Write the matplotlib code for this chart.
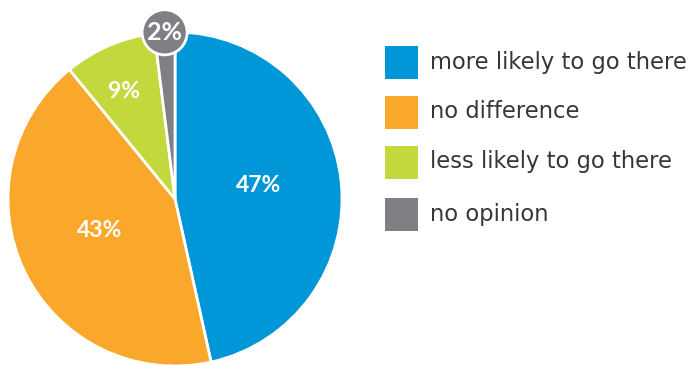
import matplotlib
matplotlib.use("Agg")
import matplotlib.pyplot as plt
from matplotlib.patches import Circle, Rectangle
import numpy as np

categories = ["more likely to go there", "no difference", "less likely to go there", "no opinion"]
values = [47, 43, 9, 2]
labels = ["47%", "43%", "9%", "2%"]
colors = ["#0096D8", "#F9A82B", "#C3D83C", "#7F8084"]

W, H = 691, 365
fig = plt.figure(figsize=(W / 100, H / 100), dpi=100)
cx, cy, R = 175, 199, 167
ax = fig.add_axes([(cx - R) / W, (H - cy - R) / H, 2 * R / W, 2 * R / H])
wedges, _ = ax.pie(values, colors=colors, startangle=90, counterclock=False,
                   wedgeprops=dict(edgecolor="white", linewidth=2))
ax.set_xlim(-1, 1)
ax.set_ylim(-1, 1)
ax.set_aspect("equal")
ax.axis("off")

font = "Lato"
pos = {"47%": (0.5, 0.08), "43%": (-0.45, -0.19), "9%": (-0.305, 0.645)}
for w, lab in zip(wedges, labels):
    if lab in pos:
        x, y = pos[lab]
        ax.text(x, y, lab, color="white", fontsize=16.5, fontweight="bold",
                family=font, ha="center", va="center")

# bubble for smallest slice
w = wedges[-1]
mid = np.deg2rad((w.theta1 + w.theta2) / 2)
bx, by = 1.0 * np.cos(mid), 1.0 * np.sin(mid)
ax.add_patch(Circle((bx, by), 0.135, facecolor=colors[-1], edgecolor="white",
                    linewidth=2, clip_on=False, zorder=5))
ax.text(bx, by, labels[-1], color="white", fontsize=18, fontweight="bold",
        family=font, ha="center", va="center", zorder=6)

# legend
sq = 33
ys = [62, 112, 162, 214]
for c, name, yc in zip(colors, categories, ys):
    fig.patches.append(Rectangle(((385) / W, (H - yc - sq / 2) / H), sq / W, sq / H,
                                 facecolor=c, edgecolor="none", transform=fig.transFigure))
    fig.text(430 / W, (H - yc) / H, name, color="#363636", fontsize=16.3,
             family="DejaVu Sans", ha="left", va="center")

fig.savefig("out.png", dpi=100)
